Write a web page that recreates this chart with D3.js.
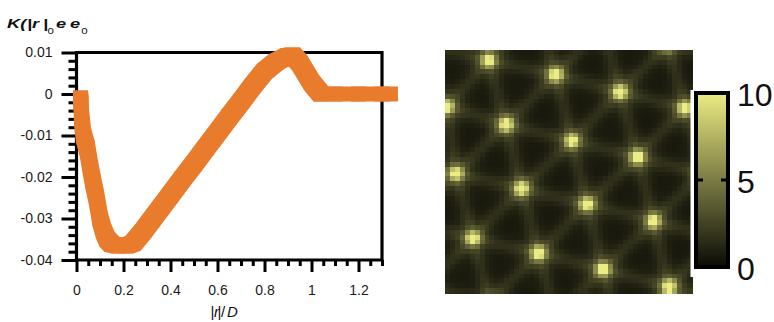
<!DOCTYPE html>
<html><head><meta charset="utf-8">
<script src="https://cdn.jsdelivr.net/npm/d3@7"></script>
<style>body{margin:0;background:#fff}svg{display:block}text{font-family:"Liberation Sans",Arial,sans-serif}</style>
</head><body><svg id="c" width="774" height="322"></svg>
<script>
// ---- line chart data ----
const rValues = [0.017,0.019,0.022,0.03,0.045,0.06,0.07,0.085,0.10,0.115,0.13,0.15,0.18,0.21,0.24,0.28,0.32,0.36,0.40,0.45,0.50,0.55,0.60,0.65,0.70,0.75,0.80,0.85,0.90,0.92,0.95,1.00,1.04,1.10,1.20,1.30,1.336];
const kValues = [-0.0009,-0.002,-0.006,-0.010,-0.013,-0.018,-0.021,-0.025,-0.030,-0.033,-0.035,-0.0362,-0.0366,-0.0366,-0.0360,-0.0333,-0.0303,-0.0273,-0.0243,-0.0205,-0.0168,-0.0130,-0.0093,-0.0055,-0.0018,0.0020,0.0055,0.0078,0.0092,0.0094,0.0075,0.0028,0.0,0.0,0.0,0.0,0.0];
const xTickValues = [0,0.2,0.4,0.6,0.8,1,1.2];
const xTickLabels = ["0","0.2","0.4","0.6","0.8","1","1.2"];
const yTickValues = [0.01,0,-0.01,-0.02,-0.03,-0.04];
const yTickLabels = ["0.01","0","-0.01","-0.02","-0.03","-0.04"];
// ---- map data (spot centres in grid-cell units, incl. ones just outside the frame) ----
const spotX = [8.8,22.3,35.4,48.6,0.3,12.4,25.7,38.9,2.2,15.5,28.8,42.2,5.6,18.9,32.0,45.4,
               5.2,18.7,31.9,45.1,58.5,62.0,52.3,55.6,58.8,9.1,22.4,35.5,48.9,-4.7,-13.0,-11.2,-7.8,-4.3];
const spotY = [2.1,5.1,8.6,12.0,11.7,15.3,18.7,22.0,25.4,28.5,31.7,35.2,38.7,41.8,45.1,48.7,
               -11.2,-8.1,-4.7,-1.3,2.0,15.3,25.3,38.5,52.0,52.0,55.1,58.4,62.0,-1.2,8.4,22.1,35.5,48.8];
const cbTickValues = [0,5,10];
const cbTickLabels = ["0","5","10"];

const svg = d3.select("#c");
svg.append("rect").attr("width",774).attr("height",322).attr("fill","#fff");

// ---------- left plot ----------
const x = d3.scaleLinear().domain([0,1.3]).range([76.5,382]);
const y = d3.scaleLinear().domain([-0.04,0.01]).range([260,52.5]);
const axG = svg.append("g");
const minorX = d3.range(0,1.3001,0.05).filter(v=>Math.abs(v*5-Math.round(v*5))>1e-6);
const minorY = d3.range(-0.04,0.0101,0.002).filter(v=>Math.abs(v*100-Math.round(v*100))>1e-6);

axG.append("g").attr("transform","translate(0,260)")
  .call(d3.axisBottom(x).tickValues(minorX).tickSize(6).tickFormat(""))
  .call(g=>g.select(".domain").remove());
axG.append("g").attr("transform","translate(76.5,0)")
  .call(d3.axisLeft(y).tickValues(minorY).tickSize(8).tickFormat(""))
  .call(g=>g.select(".domain").remove());
axG.append("g").attr("transform","translate(0,260)")
  .call(d3.axisBottom(x).tickValues(xTickValues).tickSize(12).tickPadding(13)
        .tickFormat((d,i)=>xTickLabels[i]))
  .call(g=>g.select(".domain").remove());
axG.append("g").attr("transform","translate(76.5,0)")
  .call(d3.axisLeft(y).tickValues(yTickValues).tickSize(15).tickPadding(9)
        .tickFormat((d,i)=>yTickLabels[i]))
  .call(g=>g.select(".domain").remove());
axG.selectAll(".tick line").attr("stroke","#000").attr("stroke-width",3);
axG.selectAll(".tick text").attr("font-size",14).attr("fill","#1a1a1a")
  .attr("font-family",'"Liberation Sans",Arial,sans-serif');
// box
axG.append("path")
  .attr("d",`M${x(0)},${y(-0.04)}H${x(1.3)}V${y(0.01)}H${x(0)}Z`)
  .attr("fill","none").attr("stroke","#000").attr("stroke-width",3.2).attr("stroke-linejoin","miter");

// line drawn with a square brush (hull of squares at successive points)
const brush = 7.5;
const pts = rValues.map((r,i)=>[x(r), y(kValues[i])]);
const segs = d3.pairs(pts).map(([a,b])=>{
  const c=[];
  [a,b].forEach(p=>{c.push([p[0]-brush,p[1]-brush],[p[0]+brush,p[1]-brush],[p[0]+brush,p[1]+brush],[p[0]-brush,p[1]+brush]);});
  return d3.polygonHull(c);
});
svg.append("g").selectAll("path").data(segs).join("path")
  .attr("d",d=>"M"+d.join("L")+"Z").attr("fill","#E97B2C");

// title (stretched bold italic)
const tg = svg.append("g").attr("transform","translate(7,28) scale(1.35,1)")
  .attr("font-weight","bold").attr("font-style","italic").attr("font-size",13.5).attr("fill","#111");
[["K(",0],["|",14.8],["r",18.5],["|",26.7],["e",36.3],["e",46.7]].forEach(([t,px])=>
  tg.append("text").attr("x",px).attr("y",0).text(t));
[[30.0],[55.0]].forEach(([px])=>
  tg.append("text").attr("x",px).attr("y",5.5).attr("font-size",8.5)
    .attr("font-weight","normal").attr("font-style","normal").text("0"));

// x label
const xl = svg.append("g").attr("font-size",15).attr("fill","#111");
xl.append("text").attr("x",210.5).attr("y",317).text("|");
xl.append("text").attr("x",214).attr("y",317).attr("font-style","italic").text("r");
xl.append("text").attr("x",217.5).attr("y",317).text("|");
xl.append("text").attr("x",221).attr("y",317).text("/");
xl.append("text").attr("x",227).attr("y",317).attr("font-style","italic").text("D");

// ---------- heatmap ----------
const N = 50;
const hx = d3.scaleLinear().domain([0,N]).range([445,692]);
const hy = d3.scaleLinear().domain([0,N]).range([50,293]);
const color = d3.scaleLinear().domain([0,10]).range(["#0a0a05","#ecec84"]).clamp(true);

const spots = spotX.map((v,i)=>[v,spotY[i]]);
const edges = [];
for (let i=0;i<spots.length;i++) for (let j=i+1;j<spots.length;j++){
  const d = Math.hypot(spots[i][0]-spots[j][0], spots[i][1]-spots[j][1]);
  if (d<17.5) edges.push([spots[i],spots[j]]);
}
function segDist(px,py,a,b){
  const dx=b[0]-a[0], dy=b[1]-a[1];
  let t=((px-a[0])*dx+(py-a[1])*dy)/(dx*dx+dy*dy);
  t=Math.max(0,Math.min(1,t));
  return Math.hypot(px-a[0]-t*dx, py-a[1]-t*dy);
}
const cells = [];
for (let j=0;j<N;j++) for (let i=0;i<N;i++){
  const px=i+0.5, py=j+0.5;
  let v=0.65, core=0, halo=0, ln=0;
  spots.forEach(s=>{
    const d2=(px-s[0])**2+(py-s[1])**2;
    core=Math.max(core,9.0*Math.exp(-d2/(2*1.0*1.0)));
    halo+=2.0*Math.exp(-d2/(2*2.4*2.4));
  });
  edges.forEach(e=>{
    const d=segDist(px,py,e[0],e[1]);
    ln=Math.max(ln,0.95*Math.exp(-d*d/(2*1.05*1.05)));
  });
  v+=core+halo+ln;
  cells.push({i,j,v});
}
svg.append("g").attr("shape-rendering","crispEdges").selectAll("rect").data(cells).join("rect")
  .attr("x",d=>hx(d.i)).attr("y",d=>hy(d.j))
  .attr("width",d=>hx(d.i+1)-hx(d.i)+0.5).attr("height",d=>hy(d.j+1)-hy(d.j)+0.5)
  .attr("fill",d=>color(d.v));

// ---------- colorbar ----------
svg.append("rect").attr("x",690.5).attr("y",90).attr("width",42).attr("height",187).attr("fill","#fff");
const cb = d3.scaleLinear().domain([0,10]).range([267,93]);
const defs = svg.append("defs");
const grad = defs.append("linearGradient").attr("id","cbg").attr("x1",0).attr("y1",1).attr("x2",0).attr("y2",0);
d3.range(0,10.01,1).forEach(v=>grad.append("stop").attr("offset",v/10).attr("stop-color",color(v)));
svg.append("rect").attr("x",696).attr("y",cb(10)).attr("width",32).attr("height",cb(0)-cb(10))
  .attr("fill","url(#cbg)").attr("stroke","#000").attr("stroke-width",4);
cbTickValues.filter(v=>v>0&&v<10).forEach(v=>{
  svg.append("line").attr("x1",697).attr("x2",703).attr("y1",cb(v)).attr("y2",cb(v)).attr("stroke","#000").attr("stroke-width",3);
  svg.append("line").attr("x1",721).attr("x2",727).attr("y1",cb(v)).attr("y2",cb(v)).attr("stroke","#000").attr("stroke-width",3);
});
svg.append("g").selectAll("text").data(cbTickValues).join("text")
  .attr("x",737).attr("y",d=>cb(d)+2).attr("dy","0.35em").attr("font-size",32).attr("fill","#111")
  .text((d,i)=>cbTickLabels[i]);
</script></body></html>
